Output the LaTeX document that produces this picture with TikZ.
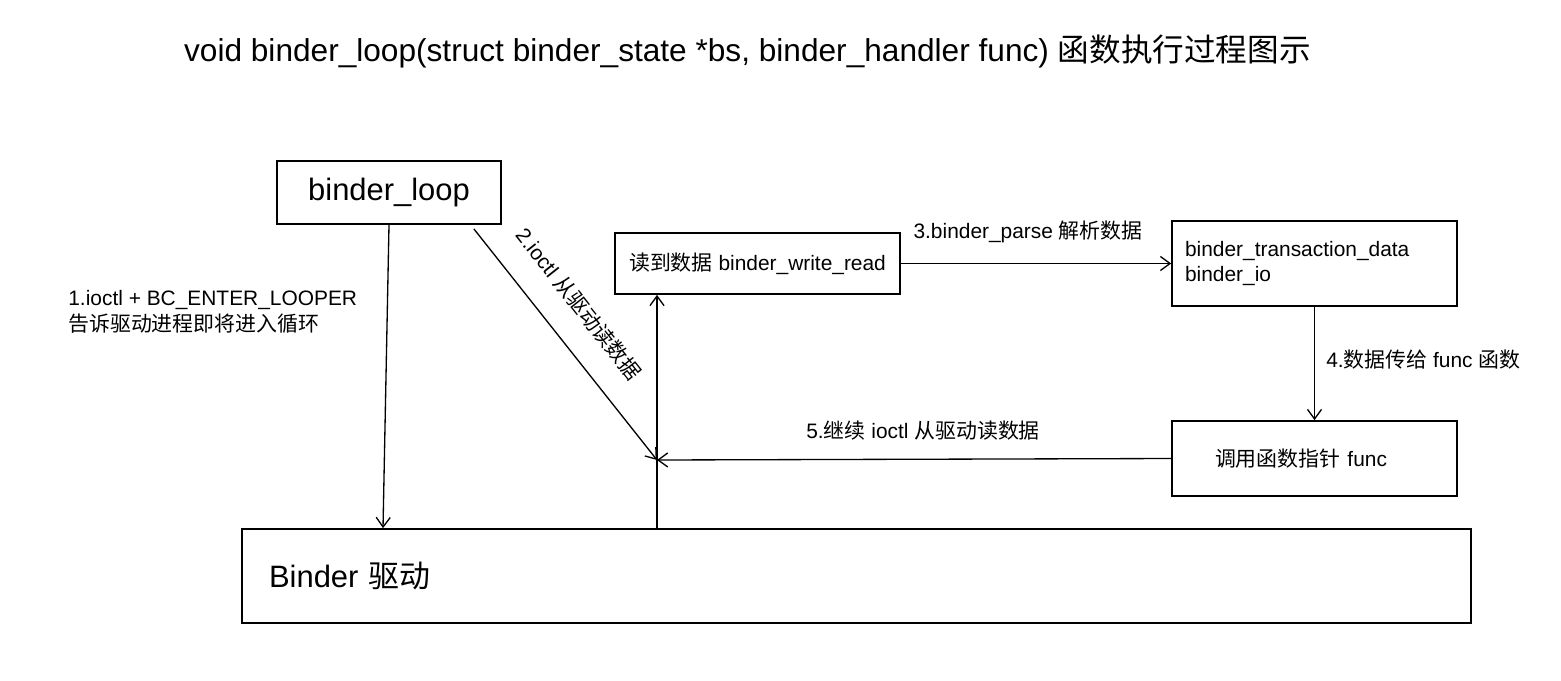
\documentclass[tikz,border=0pt]{standalone}
\usepackage{fontspec}
\setmainfont{Liberation Sans}
\newfontfamily\cjk{Noto Sans CJK SC}
\usetikzlibrary{arrows.meta,positioning,calc}
\newcommand{\zh}[1]{{\cjk #1}}

\begin{document}
\begin{tikzpicture}[x=0.02cm,y=-0.02cm,
	box/.style={draw,line width=1pt,inner sep=0pt},
	small/.style={font=\fontsize{11.9}{14.7}\selectfont},
	big/.style={font=\fontsize{17.6}{21}\selectfont},
	flow/.style={-{Straight Barb[length=5.5pt,width=8pt]},line width=0.75pt}]
	\useasboundingbox (0,0) rectangle (1561,680);
	\node (title) at (747.5,51)[big,font=\fontsize{18}{21}\selectfont] {void binder\_loop(struct binder\_state *bs, binder\_handler func) \zh{函数执行过程图示}};
	\node (loop) at (389,192.5)[box,big,minimum width=4.48cm,minimum height=1.26cm] {binder\_loop};
	\node (rw) at (757.5,263.5)[box,small,minimum width=5.7cm,minimum height=1.22cm] {\zh{读到数据} binder\_write\_read};
	\node (data) at (1314.5,263.5)[box,small,minimum height=1.7cm,text width=5.18cm,inner xsep=0.26cm,align=left] {binder\_transaction\_data\\binder\_io};
	\node (func) at (1314.5,458.5)[box,small,minimum height=1.5cm,text width=3.98cm,inner xsep=0.86cm,align=left] {\zh{调用函数指针} func};
	\node (drv) at (856.5,576)[box,big,minimum height=1.88cm,text width=23.5cm,inner xsep=0.54cm,align=left] {Binder \zh{驱动}};
	\node (note) at (68,312)[small,anchor=west,align=left,inner sep=0pt] {1.ioctl + BC\_ENTER\_LOOPER\\\zh{告诉驱动进程即将进入循环}};
	\coordinate (meet) at (657,460);
	\draw[flow] (loop.south) -- ([xshift=-0.12cm]loop.south |- drv.north);
	\draw[flow] ($(loop.south east)+(-28,4)$) -- node[pos=0.42,sloped,above=11pt,small] {2.ioctl \zh{从驱动读数据}} (meet);
	\draw[flow] (meet |- drv.north) -- (meet |- rw.south);
	\draw[flow] (rw.east) -- node[above=8pt,xshift=-0.16cm,small] {3.binder\_parse \zh{解析数据}} (data.west);
	\draw[flow] (data.south) -- node[right=3pt,yshift=2pt,small] {4.\zh{数据传给} func \zh{函数}} (func.north);
	\draw[flow] (func.west) -- node[above=7pt,xshift=0.18cm,small] {5.\zh{继续} ioctl \zh{从驱动读数据}} (meet);
\end{tikzpicture}
\end{document}
